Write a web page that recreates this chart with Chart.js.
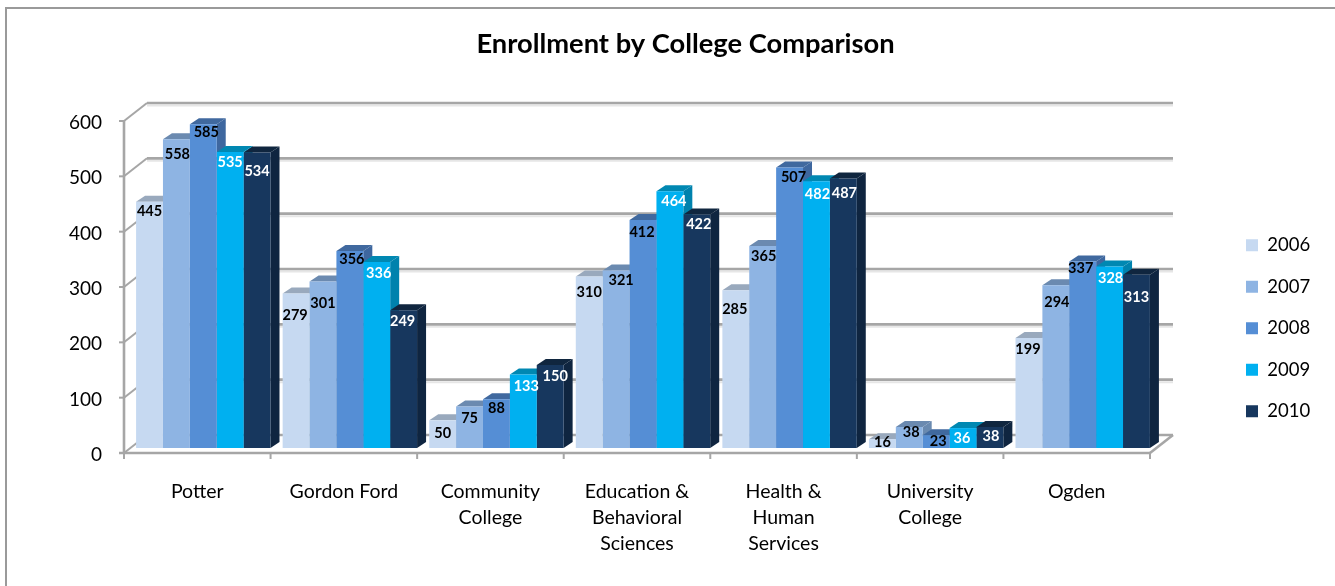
<!DOCTYPE html>
<html>
<head>
<meta charset="utf-8">
<title>Enrollment by College Comparison</title>
<script src="https://cdn.jsdelivr.net/npm/chart.js@4"></script>
<style>
    html, body { margin: 0; padding: 0; background: #fff; overflow: hidden; }
    canvas { display: block; }
</style>
</head>
<body>
<canvas id="enrollChart" width="1335" height="586"></canvas>
<script>
// Data
const colleges = [
    'Potter',
    'Gordon Ford',
    ['Community', 'College'],
    ['Education &', 'Behavioral', 'Sciences'],
    ['Health &', 'Human', 'Services'],
    ['University', 'College'],
    'Ogden'
];
const years = ['2006', '2007', '2008', '2009', '2010'];
const values2006 = [445, 279, 50, 310, 285, 16, 199];
const values2007 = [558, 301, 75, 321, 365, 38, 294];
const values2008 = [585, 356, 88, 412, 507, 23, 337];
const values2009 = [535, 336, 133, 464, 482, 36, 328];
const values2010 = [534, 249, 150, 422, 487, 38, 313];
const yTicks = [0, 100, 200, 300, 400, 500, 600];

// Colours: front, side and top faces of the bars for each year
const frontColors = ['#c6d9f1', '#8eb4e3', '#558ed5', '#00b0f0', '#17375e'];
const sideColors = ['#9aabbf', '#6a8ab0', '#3e679f', '#0082ad', '#0f2540'];
const topColors = ['#99a9bd', '#6b8ab0', '#40699f', '#0088b2', '#10263f'];
const labelColors = ['#000', '#000', '#000', '#fff', '#fff'];

// The value labels sit unevenly in the original: shift from bar centre, [dx, dy from bar top]
const labelShift = [
    [[0, 10], [-1, 22], [0, 13], [0, 16], [-1, 19], [0, 3], [-1, 11]],
    [[1, 15], [0, 22], [0, 12], [5, 10], [1, 10], [2, 5], [1, 17]],
    [[3, 8], [2, 8], [0, 9], [-1, 12], [4, 10], [2, 6], [-2, 7]],
    [[0, 10], [2, 11], [3, 12], [4, 10], [1, 13], [-1, 10], [1, 12]],
    [[0, 19], [-1, 11], [5, 11], [2, 10], [1, 15], [1, 9], [0, 23]]
];

const FONT = 'Lato, "Open Sans", sans-serif';
const DEPTH_X = 9, DEPTH_Y = 6;       // depth of a bar
const AXIS_DX = -6, AXIS_DY = 5;      // axis plane, relative to the bars
const WALL_DX = 17, WALL_DY = -13;    // back wall, relative to the bars

const line = (ctx, x1, y1, x2, y2) => {
    ctx.beginPath();
    ctx.moveTo(x1, y1);
    ctx.lineTo(x2, y2);
    ctx.stroke();
};

const poly = (ctx, pts, color) => {
    ctx.fillStyle = color;
    ctx.beginPath();
    pts.forEach(([x, y], i) => i ? ctx.lineTo(x, y) : ctx.moveTo(x, y));
    ctx.closePath();
    ctx.fill();
};

const frame3d = {
    id: 'frame3d',
    afterLayout(chart) {
        // title and legend do not follow the plot area in the original
        chart.titleBlock.left = 36;
        chart.titleBlock.right = 1335;
        const pad = chart.legend.options.labels.padding;
        chart.legend.left = 1246 - pad;
        chart.legend.right = 1335;
        chart.legend.top = 236 - pad;
        chart.legend.bottom = 560;
    },
    beforeDraw(chart) {
        const { ctx } = chart;
        ctx.save();
        ctx.strokeStyle = '#9a9a9a';
        ctx.lineWidth = 2;
        line(ctx, 6, 586, 6, 8);
        line(ctx, 5, 8, 1335, 8);
        ctx.restore();
    },
    beforeDatasetsDraw(chart) {
        const { ctx, chartArea: area, scales: { x, y } } = chart;
        const left = area.left, right = area.right, zero = y.getPixelForValue(0);

        ctx.save();
        ctx.lineCap = 'butt';
        // back wall, shadow first
        yTicks.forEach(v => {
            const py = y.getPixelForValue(v) + WALL_DY;
            if (v > 0) {
                ctx.strokeStyle = '#e6e6e6';
                ctx.lineWidth = 2;
                line(ctx, left + WALL_DX, py + 2.5, right + WALL_DX, py + 2.5);
            }
            ctx.strokeStyle = '#a6a6a6';
            ctx.lineWidth = 2.6;
            line(ctx, left + WALL_DX, py, right + WALL_DX, py);
            // side wall
            ctx.lineWidth = 2;
            line(ctx, left + AXIS_DX, py - WALL_DY + AXIS_DY, left + WALL_DX, py);
        });
        // floor and axes
        ctx.strokeStyle = '#a6a6a6';
        ctx.lineWidth = 2.6;
        line(ctx, right + AXIS_DX, zero + AXIS_DY, right + WALL_DX, zero + WALL_DY);
        line(ctx, left + AXIS_DX - 5, zero + AXIS_DY, right + AXIS_DX + 1, zero + AXIS_DY);
        line(ctx, left + AXIS_DX, y.getPixelForValue(600) + AXIS_DY - 1, left + AXIS_DX, zero + AXIS_DY);
        ctx.lineWidth = 2;
        yTicks.forEach(v => {
            const py = y.getPixelForValue(v) + AXIS_DY;
            line(ctx, left + AXIS_DX - 5, py, left + AXIS_DX, py);
        });
        const step = (right - left) / colleges.length;
        for (let i = 0; i <= colleges.length; i++) {
            const px = left + AXIS_DX + step * i;
            line(ctx, px, zero + AXIS_DY, px, zero + AXIS_DY + 6);
        }

        // side and top faces of the bars, the fronts come from Chart.js
        colleges.forEach((_, i) => {
            years.forEach((_, d) => {
                const bar = chart.getDatasetMeta(d).data[i];
                const l = bar.x - bar.width / 2, r = bar.x + bar.width / 2;
                poly(ctx, [[r, bar.y], [r + DEPTH_X, bar.y - DEPTH_Y], [r + DEPTH_X, bar.base - DEPTH_Y], [r, bar.base]], sideColors[d]);
                poly(ctx, [[l, bar.y], [l + DEPTH_X, bar.y - DEPTH_Y], [r + DEPTH_X, bar.y - DEPTH_Y], [r, bar.y]], topColors[d]);
            });
        });
        ctx.restore();
    },
    afterDatasetsDraw(chart) {
        const { ctx } = chart;
        ctx.save();
        ctx.font = 'bold 14.5px ' + FONT;
        ctx.textAlign = 'center';
        ctx.textBaseline = 'middle';
        years.forEach((_, d) => {
            const meta = chart.getDatasetMeta(d);
            ctx.fillStyle = labelColors[d];
            meta.data.forEach((bar, i) => {
                const [dx, dy] = labelShift[d][i];
                ctx.fillText(chart.data.datasets[d].data[i], bar.x + dx, bar.y + dy);
            });
        });
        ctx.restore();
    }
};

const allValues = [values2006, values2007, values2008, values2009, values2010];

new Chart(document.getElementById('enrollChart'), {
    type: 'bar',
    plugins: [frame3d],
    data: {
        labels: colleges,
        datasets: years.map((year, d) => ({
            label: year,
            data: allValues[d],
            backgroundColor: frontColors[d],
            borderWidth: 0,
            categoryPercentage: 0.917,
            barPercentage: 1
        }))
    },
    options: {
        responsive: false,
        animation: false,
        layout: { padding: { right: 179 } },
        plugins: {
            title: {
                display: true,
                text: 'Enrollment by College Comparison',
                color: '#000',
                font: { family: FONT, size: 27.3, weight: 'bold' },
                padding: { top: 28, bottom: 55.24 }
            },
            legend: {
                position: 'chartArea',
                align: 'start',
                labels: {
                    boxWidth: 12,
                    boxHeight: 12,
                    padding: 23,
                    color: '#000',
                    font: { family: FONT, size: 18.5 }
                }
            },
            tooltip: { enabled: false }
        },
        scales: {
            x: {
                grid: { display: false },
                border: { display: false },
                afterFit(scale) { scale.height = 138; },
                ticks: {
                    autoSkip: false,
                    maxRotation: 0,
                    color: '#000',
                    padding: 23,
                    labelOffset: -6,
                    font: { family: FONT, size: 19.5, lineHeight: 1.333 }
                }
            },
            y: {
                min: 0,
                max: 600,
                grid: { display: false },
                border: { display: false },
                afterFit(scale) { scale.width = 130; },
                afterBuildTicks(scale) { scale.ticks = yTicks.map(value => ({ value })); },
                ticks: {
                    color: '#000',
                    padding: 20,
                    labelOffset: 7,
                    font: { family: FONT, size: 19 }
                }
            }
        }
    }
});
</script>
</body>
</html>
